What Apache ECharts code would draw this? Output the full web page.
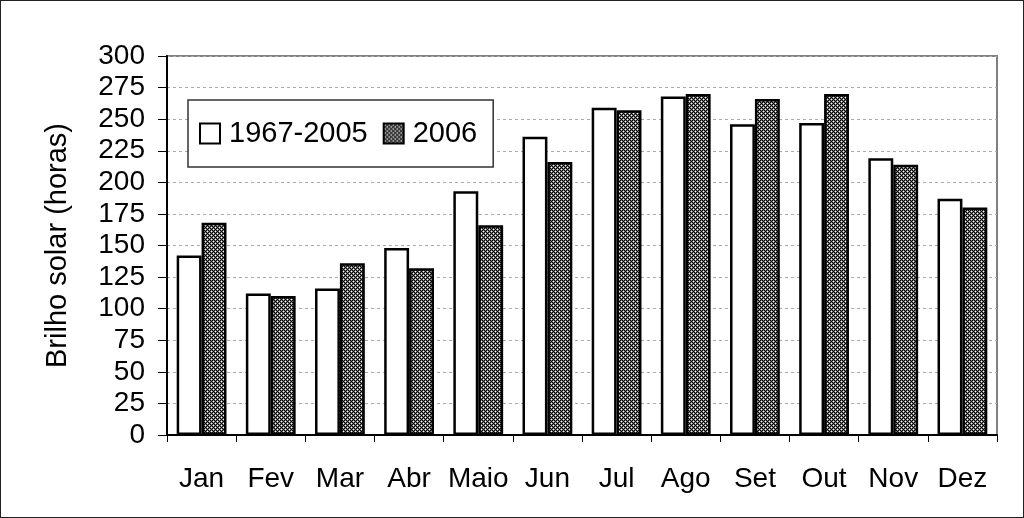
<!DOCTYPE html>
<html>
<head>
<meta charset="utf-8">
<script src="https://cdn.jsdelivr.net/npm/echarts@6/dist/echarts.min.js"></script>
<style>
html,body{margin:0;padding:0;background:#fff;}
#frame{position:absolute;left:0;top:0;width:1022px;height:516px;border:1px solid #222;}
#c{position:absolute;left:0;top:0;width:1024px;height:518px;}
</style>
</head>
<body>
<div id="c"></div>
<div id="frame"></div>
<script>
const months = ['Jan','Fev','Mar','Abr','Maio','Jun','Jul','Ago','Set','Out','Nov','Dez'];
const seriesNames = ['1967-2005','2006'];
const normal = [142,112,116,148,193,236,259,268,246,247,219,187];
const year2006 = [168,110,136,132,166,216,257,270,266,270,214,180];
const yTicks = {min:0,max:300,step:25};

function makePattern(){
  const c = document.createElement('canvas');
  c.width = 4; c.height = 4;
  const g = c.getContext('2d');
  g.fillStyle = '#000'; g.fillRect(0,0,4,4);
  g.fillStyle = '#777';
  [[1,0],[0,1],[2,1],[1,2],[3,2],[2,3],[3,0],[0,3]].forEach(p=>g.fillRect(p[0],p[1],1,1));
  g.fillStyle = '#fff';
  g.fillRect(1,1,1,1); g.fillRect(3,3,1,1);
  return c;
}
const pat = makePattern();

const chart = echarts.init(document.getElementById('c'), null, {renderer:'canvas'});
const font = 'Liberation Sans, Arial, sans-serif';
chart.setOption({
  animation:false,
  backgroundColor:'#fff',
  grid:{left:167,right:27,top:56,bottom:83,show:true,borderColor:'#808080',borderWidth:2,backgroundColor:'transparent'},
  legend:{
    left:188, top:100,
    backgroundColor:'#fff', borderColor:'#333', borderWidth:1.5,
    padding:[19,16,19,11],
    itemWidth:20,itemHeight:20,itemGap:15,
    icon:'rect',
    textStyle:{fontFamily:font,fontSize:29,color:'#000',padding:[2,0,0,4]},
    data:seriesNames
  },
  xAxis:{
    type:'category', data:months,
    axisLine:{lineStyle:{color:'#000',width:2}},
    axisTick:{show:true,length:7,lineStyle:{color:'#000',width:1}},
    axisLabel:{interval:0,fontFamily:font,fontSize:28,color:'#000',margin:30}
  },
  yAxis:{
    type:'value', min:yTicks.min, max:yTicks.max, interval:yTicks.step,
    name:'Brilho solar (horas)', nameLocation:'middle', nameGap:95,
    nameTextStyle:{fontFamily:font,fontSize:29,color:'#000'},
    axisLine:{show:true,lineStyle:{color:'#000',width:2}},
    axisTick:{show:true,length:9,lineStyle:{color:'#000',width:1}},
    axisLabel:{fontFamily:font,fontSize:28,color:'#000',margin:22},
    splitLine:{show:true,lineStyle:{color:'#aaa',type:[3,3],width:1}}
  },
  series:[
    {name:seriesNames[0],type:'bar',data:normal,barGap:'0%',barCategoryGap:'28%',
     itemStyle:{color:'#fff',borderColor:'#000',borderWidth:2.5}},
    {name:seriesNames[1],type:'bar',data:year2006,
     itemStyle:{color:{image:pat,repeat:'repeat'},borderColor:'#000',borderWidth:2.5}}
  ]
});
</script>
</body>
</html>
